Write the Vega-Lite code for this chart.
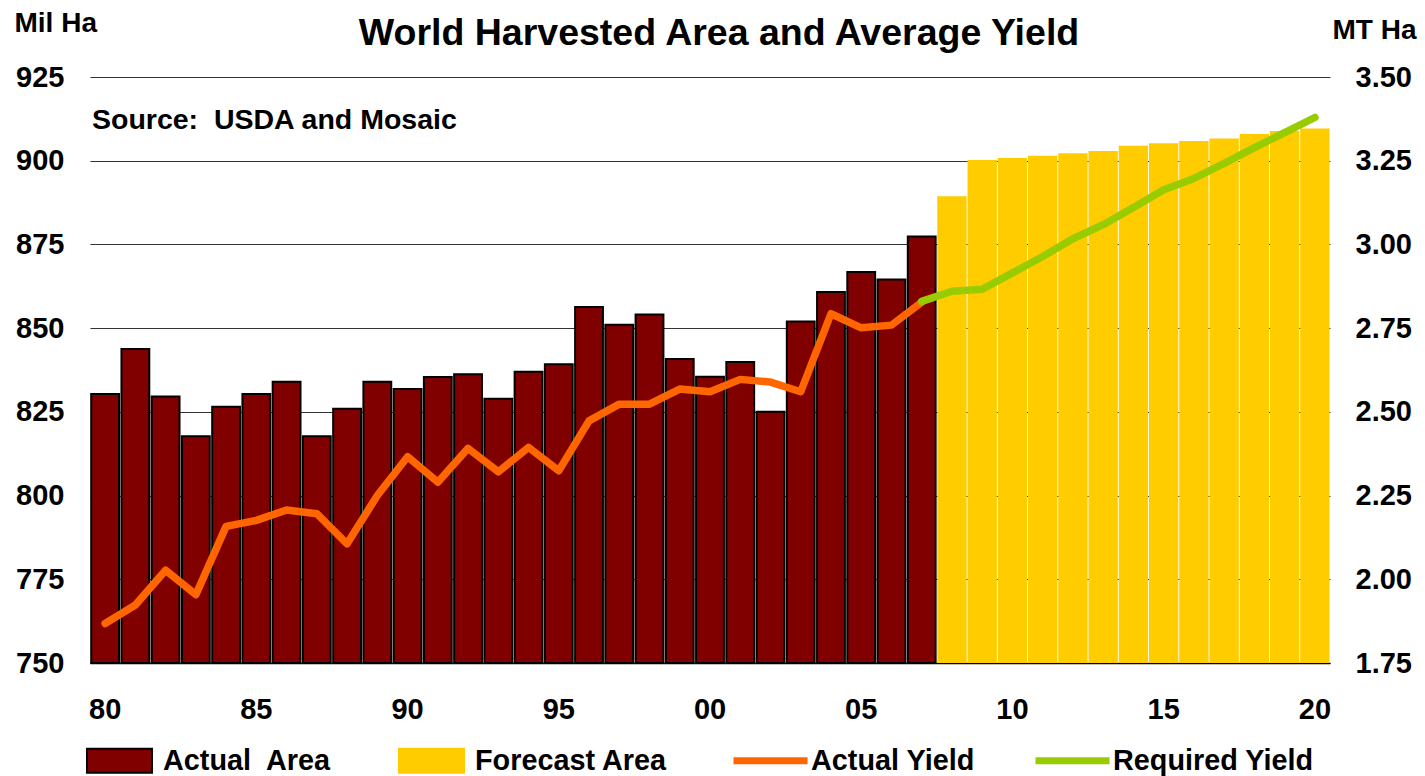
{
  "$schema": "https://vega.github.io/schema/vega-lite/v6.json",
  "width": 1240,
  "height": 586,
  "autosize": {"type": "none"},
  "padding": {"left": 90, "top": 77, "right": 95, "bottom": 113},
  "background": "white",
  "title": {
    "text": "World Harvested Area and Average Yield",
    "anchor": "middle",
    "frame": "group",
    "fontSize": 37.5,
    "fontWeight": "bold",
    "color": "black",
    "dx": 9,
    "dy": 47
  },
  "datasets": {
    "area": [
      {"year": 1980, "area": 830.3, "status": "Actual\u00a0 Area"},
      {"year": 1981, "area": 843.8, "status": "Actual\u00a0 Area"},
      {"year": 1982, "area": 829.6, "status": "Actual\u00a0 Area"},
      {"year": 1983, "area": 817.7, "status": "Actual\u00a0 Area"},
      {"year": 1984, "area": 826.5, "status": "Actual\u00a0 Area"},
      {"year": 1985, "area": 830.3, "status": "Actual\u00a0 Area"},
      {"year": 1986, "area": 834.0, "status": "Actual\u00a0 Area"},
      {"year": 1987, "area": 817.7, "status": "Actual\u00a0 Area"},
      {"year": 1988, "area": 825.9, "status": "Actual\u00a0 Area"},
      {"year": 1989, "area": 834.0, "status": "Actual\u00a0 Area"},
      {"year": 1990, "area": 831.8, "status": "Actual\u00a0 Area"},
      {"year": 1991, "area": 835.4, "status": "Actual\u00a0 Area"},
      {"year": 1992, "area": 836.2, "status": "Actual\u00a0 Area"},
      {"year": 1993, "area": 828.9, "status": "Actual\u00a0 Area"},
      {"year": 1994, "area": 837.0, "status": "Actual\u00a0 Area"},
      {"year": 1995, "area": 839.2, "status": "Actual\u00a0 Area"},
      {"year": 1996, "area": 856.3, "status": "Actual\u00a0 Area"},
      {"year": 1997, "area": 851.0, "status": "Actual\u00a0 Area"},
      {"year": 1998, "area": 854.1, "status": "Actual\u00a0 Area"},
      {"year": 1999, "area": 840.8, "status": "Actual\u00a0 Area"},
      {"year": 2000, "area": 835.5, "status": "Actual\u00a0 Area"},
      {"year": 2001, "area": 839.9, "status": "Actual\u00a0 Area"},
      {"year": 2002, "area": 825.0, "status": "Actual\u00a0 Area"},
      {"year": 2003, "area": 852.0, "status": "Actual\u00a0 Area"},
      {"year": 2004, "area": 860.8, "status": "Actual\u00a0 Area"},
      {"year": 2005, "area": 866.8, "status": "Actual\u00a0 Area"},
      {"year": 2006, "area": 864.5, "status": "Actual\u00a0 Area"},
      {"year": 2007, "area": 877.4, "status": "Actual\u00a0 Area"},
      {"year": 2008, "area": 889.4, "status": "Forecast Area"},
      {"year": 2009, "area": 900.2, "status": "Forecast Area"},
      {"year": 2010, "area": 900.8, "status": "Forecast Area"},
      {"year": 2011, "area": 901.5, "status": "Forecast Area"},
      {"year": 2012, "area": 902.2, "status": "Forecast Area"},
      {"year": 2013, "area": 902.9, "status": "Forecast Area"},
      {"year": 2014, "area": 904.5, "status": "Forecast Area"},
      {"year": 2015, "area": 905.2, "status": "Forecast Area"},
      {"year": 2016, "area": 905.9, "status": "Forecast Area"},
      {"year": 2017, "area": 906.6, "status": "Forecast Area"},
      {"year": 2018, "area": 908.0, "status": "Forecast Area"},
      {"year": 2019, "area": 908.9, "status": "Forecast Area"},
      {"year": 2020, "area": 909.6, "status": "Forecast Area"}
    ],
    "yield": [
      {"year": 1980, "yield": 1.868, "series": "Actual Yield"},
      {"year": 1981, "yield": 1.923, "series": "Actual Yield"},
      {"year": 1982, "yield": 2.027, "series": "Actual Yield"},
      {"year": 1983, "yield": 1.954, "series": "Actual Yield"},
      {"year": 1984, "yield": 2.158, "series": "Actual Yield"},
      {"year": 1985, "yield": 2.176, "series": "Actual Yield"},
      {"year": 1986, "yield": 2.207, "series": "Actual Yield"},
      {"year": 1987, "yield": 2.196, "series": "Actual Yield"},
      {"year": 1988, "yield": 2.106, "series": "Actual Yield"},
      {"year": 1989, "yield": 2.250, "series": "Actual Yield"},
      {"year": 1990, "yield": 2.366, "series": "Actual Yield"},
      {"year": 1991, "yield": 2.290, "series": "Actual Yield"},
      {"year": 1992, "yield": 2.391, "series": "Actual Yield"},
      {"year": 1993, "yield": 2.321, "series": "Actual Yield"},
      {"year": 1994, "yield": 2.394, "series": "Actual Yield"},
      {"year": 1995, "yield": 2.324, "series": "Actual Yield"},
      {"year": 1996, "yield": 2.473, "series": "Actual Yield"},
      {"year": 1997, "yield": 2.523, "series": "Actual Yield"},
      {"year": 1998, "yield": 2.523, "series": "Actual Yield"},
      {"year": 1999, "yield": 2.568, "series": "Actual Yield"},
      {"year": 2000, "yield": 2.560, "series": "Actual Yield"},
      {"year": 2001, "yield": 2.597, "series": "Actual Yield"},
      {"year": 2002, "yield": 2.589, "series": "Actual Yield"},
      {"year": 2003, "yield": 2.560, "series": "Actual Yield"},
      {"year": 2004, "yield": 2.793, "series": "Actual Yield"},
      {"year": 2005, "yield": 2.751, "series": "Actual Yield"},
      {"year": 2006, "yield": 2.759, "series": "Actual Yield"},
      {"year": 2007, "yield": 2.827, "series": "Actual Yield"},
      {"year": 2007, "yield": 2.830, "series": "Required Yield"},
      {"year": 2008, "yield": 2.860, "series": "Required Yield"},
      {"year": 2009, "yield": 2.866, "series": "Required Yield"},
      {"year": 2010, "yield": 2.915, "series": "Required Yield"},
      {"year": 2011, "yield": 2.964, "series": "Required Yield"},
      {"year": 2012, "yield": 3.017, "series": "Required Yield"},
      {"year": 2013, "yield": 3.059, "series": "Required Yield"},
      {"year": 2014, "yield": 3.110, "series": "Required Yield"},
      {"year": 2015, "yield": 3.163, "series": "Required Yield"},
      {"year": 2016, "yield": 3.197, "series": "Required Yield"},
      {"year": 2017, "yield": 3.242, "series": "Required Yield"},
      {"year": 2018, "yield": 3.289, "series": "Required Yield"},
      {"year": 2019, "yield": 3.334, "series": "Required Yield"},
      {"year": 2020, "yield": 3.379, "series": "Required Yield"}
    ],
    "note": [
      {"year": 1980, "value": 909.6, "text": "Source:\u00a0 USDA and Mosaic"}
    ]
  },
  "layer": [
    {
      "layer": [
        {
          "data": {"name": "area"},
          "transform": [{"filter": "datum.year <= 2007"}],
          "mark": {"type": "bar", "stroke": "black", "strokeWidth": 2, "width": {"band": 0.92}},
          "encoding": {
            "x": {
              "field": "year",
              "type": "ordinal",
              "scale": {"paddingInner": 0, "paddingOuter": 0},
              "axis": {
                "title": null,
                "values": [1980, 1985, 1990, 1995, 2000, 2005, 2010, 2015, 2020],
                "labelExpr": "substring(datum.label, 2, 4)",
                "labelAngle": 0,
                "ticks": false,
                "domain": true,
                "domainColor": "black",
                "domainWidth": 1.5,
                "labelPadding": 32
              }
            },
            "y": {
              "field": "area",
              "type": "quantitative",
              "scale": {"domain": [750, 925], "zero": false, "nice": false},
              "axis": {
                "title": "Mil Ha",
                "titleAngle": 0,
                "titleAlign": "left",
                "titleBaseline": "alphabetic",
                "titleX": -76,
                "titleY": -46,
                "titleFontSize": 28,
                "values": [750, 775, 800, 825, 850, 875, 900, 925],
                "grid": true,
                "gridColor": "#333333",
                "ticks": false,
                "domain": false,
                "labelPadding": 26
              }
            },
            "y2": {"datum": 750},
            "fill": {
              "field": "status",
              "type": "nominal",
              "scale": {"domain": ["Actual\u00a0 Area", "Forecast Area"], "range": ["#800000", "#ffcc00"]},
              "legend": {
                "orient": "none",
                "legendX": -4,
                "legendY": 650,
                "direction": "horizontal",
                "title": null,
                "symbolType": "M-1,-0.37H1V0.37H-1Z",
                "symbolSize": 4225,
                "symbolStrokeWidth": 2,
                "symbolStrokeColor": {"expr": "datum.value === 'Forecast Area' ? '#ffcc00' : 'black'"},
                "labelOffset": 10,
                "columnPadding": 63
              }
            }
          }
        },
        {
          "data": {"name": "area"},
          "transform": [{"filter": "datum.year > 2007"}],
          "mark": {"type": "bar", "width": {"band": 0.97}},
          "encoding": {
            "x": {"field": "year", "type": "ordinal"},
            "y": {"field": "area", "type": "quantitative"},
            "y2": {"datum": 750},
            "fill": {"field": "status", "type": "nominal"}
          }
        },
        {
          "data": {"name": "note"},
          "mark": {
            "type": "text",
            "align": "left",
            "baseline": "alphabetic",
            "fontSize": 28.5,
            "fontWeight": "bold",
            "dx": 2,
            "color": "black"
          },
          "encoding": {
            "x": {"field": "year", "type": "ordinal", "bandPosition": 0},
            "y": {"field": "value", "type": "quantitative"},
            "text": {"field": "text"}
          }
        }
      ]
    },
    {
      "data": {"name": "yield"},
      "mark": {"type": "line", "strokeWidth": 7.5, "strokeCap": "round", "strokeJoin": "round"},
      "encoding": {
        "x": {"field": "year", "type": "ordinal"},
        "y": {
          "field": "yield",
          "type": "quantitative",
          "scale": {"domain": [1.75, 3.5], "zero": false, "nice": false},
          "axis": {
            "orient": "right",
            "title": "MT Ha",
            "titleAngle": 0,
            "titleAlign": "right",
            "titleBaseline": "alphabetic",
            "titleX": 86,
            "titleY": -39,
            "titleFontSize": 28,
            "values": [1.75, 2.0, 2.25, 2.5, 2.75, 3.0, 3.25, 3.5],
            "format": ".2f",
            "grid": false,
            "ticks": false,
            "domain": false,
            "labelPadding": 25
          }
        },
        "stroke": {
          "field": "series",
          "type": "nominal",
          "scale": {"domain": ["Actual Yield", "Required Yield"], "range": ["#ff6600", "#99cc00"]},
          "legend": {
            "orient": "none",
            "legendX": 640,
            "legendY": 643,
            "direction": "horizontal",
            "title": null,
            "symbolType": "stroke",
            "symbolSize": 5476,
            "symbolStrokeWidth": 7,
            "labelOffset": 0,
            "columnPadding": 46
          }
        }
      }
    }
  ],
  "resolve": {"scale": {"y": "independent"}},
  "config": {
    "font": "Liberation Sans",
    "view": {"stroke": null},
    "axis": {
      "labelFont": "Liberation Sans",
      "labelFontSize": 29,
      "labelFontWeight": "bold",
      "labelColor": "black",
      "titleFont": "Liberation Sans",
      "titleFontWeight": "bold",
      "titleColor": "black"
    },
    "legend": {
      "labelFont": "Liberation Sans",
      "labelFontSize": 28.8,
      "labelFontWeight": "bold",
      "labelColor": "black",
      "labelLimit": 400,
      "padding": 0
    },
    "title": {"font": "Liberation Sans"}
  }
}
